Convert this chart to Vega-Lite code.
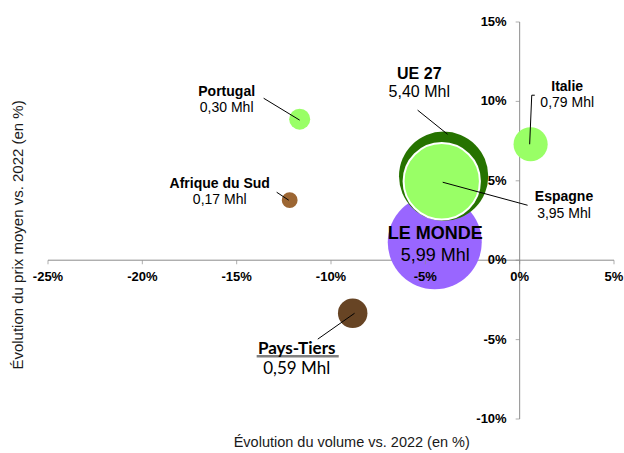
{
  "$schema": "https://vega.github.io/schema/vega-lite/v6.json",
  "width": 566,
  "height": 397,
  "autosize": {"type": "none"},
  "padding": {"left": 48, "top": 22, "right": 10, "bottom": 34},
  "background": "white",
  "config": {"view": {"stroke": null}, "font": "Liberation Sans"},
  "datasets": {
    "bulles": [
      {"nom": "LE MONDE", "volume": -4.5, "prix": 1.13, "mhl": 5.99},
      {"nom": "UE 27", "volume": -4.03, "prix": 5.29, "mhl": 5.40},
      {"nom": "Espagne", "volume": -4.13, "prix": 4.97, "mhl": 3.95},
      {"nom": "Italie", "volume": 0.58, "prix": 7.30, "mhl": 0.79},
      {"nom": "Portugal", "volume": -11.66, "prix": 8.88, "mhl": 0.30},
      {"nom": "Afrique du Sud", "volume": -12.19, "prix": 3.78, "mhl": 0.17},
      {"nom": "Pays-Tiers", "volume": -8.85, "prix": -3.34, "mhl": 0.59}
    ],
    "zero": [{"v": 0}],
    "graduations_x": [
      {"v": -25, "texte": "-25%"}, {"v": -20, "texte": "-20%"}, {"v": -15, "texte": "-15%"},
      {"v": -10, "texte": "-10%"}, {"v": -5, "texte": "-5%"}, {"v": 0, "texte": "0%"}, {"v": 5, "texte": "5%"}
    ],
    "graduations_y": [
      {"v": -10, "texte": "-10%"}, {"v": -5, "texte": "-5%"}, {"v": 0, "texte": "0%"},
      {"v": 5, "texte": "5%"}, {"v": 10, "texte": "10%"}, {"v": 15, "texte": "15%"}
    ],
    "titres": [
      {"texte": "Évolution du volume vs. 2022 (en %)", "tx": -8.9, "ty": -11.5, "axe": "x"},
      {"texte": "Évolution du prix moyen vs. 2022 (en %)", "tx": -26.59, "ty": 1.59, "axe": "y"}
    ],
    "etiquettes": [
      {"nom": "Portugal", "valeur": "0,30 Mhl", "lx": -15.53, "ly_nom": 10.58, "ly_valeur": 9.57},
      {"nom": "Afrique du Sud", "valeur": "0,17 Mhl", "lx": -15.9, "ly_nom": 4.79, "ly_valeur": 3.78},
      {"nom": "UE 27", "valeur": "5,40 Mhl", "lx": -5.32, "ly_nom": 11.71, "ly_valeur": 10.58},
      {"nom": "Italie", "valeur": "0,79 Mhl", "lx": 2.52, "ly_nom": 10.89, "ly_valeur": 9.89},
      {"nom": "Espagne", "valeur": "3,95 Mhl", "lx": 2.35, "ly_nom": 3.97, "ly_valeur": 2.9},
      {"nom": "LE MONDE", "valeur": "5,99 Mhl", "lx": -4.48, "ly_nom": 1.64, "ly_valeur": 0.25},
      {"nom": "Pays-Tiers", "valeur": "0,59 Mhl", "lx": -11.82, "ly_nom": -5.6, "ly_valeur": -6.86}
    ],
    "reperes": [
      {"nom": "Portugal", "x1": -13.57, "y1": 10.2, "x2": -11.66, "y2": 8.82},
      {"nom": "Afrique du Sud", "x1": -12.88, "y1": 4.28, "x2": -12.24, "y2": 3.78},
      {"nom": "UE 27", "x1": -5.41, "y1": 9.45, "x2": -3.82, "y2": 7.93},
      {"nom": "Italie", "x1": 0.64, "y1": 10.39, "x2": 0.53, "y2": 7.3},
      {"nom": "Italie", "x1": 0.64, "y1": 10.39, "x2": 0.8, "y2": 10.39},
      {"nom": "Espagne", "x1": -4.08, "y1": 4.91, "x2": 0.42, "y2": 3.46},
      {"nom": "Pays-Tiers", "x1": -10.7, "y1": -4.97, "x2": -8.75, "y2": -3.34}
    ],
    "soulignement": [
      {"nom": "Pays-Tiers", "x1": -13.94, "x2": -9.59, "y": -6.05}
    ]
  },
  "layer": [
    {
      "data": {"name": "zero"},
      "mark": {"type": "rule", "color": "#8c8c8c", "strokeWidth": 1},
      "encoding": {
        "y": {"field": "v", "type": "quantitative", "scale": {"domain": [-10, 15], "nice": false, "zero": false}, "axis": null}
      }
    },
    {
      "data": {"name": "zero"},
      "mark": {"type": "rule", "color": "#8c8c8c", "strokeWidth": 1},
      "encoding": {
        "x": {"field": "v", "type": "quantitative", "scale": {"domain": [-25, 5], "nice": false, "zero": false}, "axis": null}
      }
    },
    {
      "data": {"name": "bulles"},
      "transform": [{"filter": "datum.nom !== 'Espagne'"}],
      "mark": {"type": "circle", "opacity": 1},
      "encoding": {
        "x": {"field": "volume", "type": "quantitative", "scale": {"domain": [-25, 5], "nice": false, "zero": false}, "axis": null},
        "y": {"field": "prix", "type": "quantitative", "scale": {"domain": [-10, 15], "nice": false, "zero": false}, "axis": null},
        "size": {"field": "mhl", "type": "quantitative", "scale": {"domain": [0, 6], "range": [0, 8850]}, "legend": null},
        "color": {
          "field": "nom", "type": "nominal",
          "scale": {
            "domain": ["LE MONDE", "UE 27", "Espagne", "Italie", "Portugal", "Afrique du Sud", "Pays-Tiers"],
            "range": ["#9966FF", "#267300", "#99FF66", "#99FF66", "#99FF66", "#9C6633", "#674424"]
          },
          "legend": null
        }
      }
    },
    {
      "data": {"name": "bulles"},
      "transform": [{"filter": "datum.nom === 'Espagne'"}],
      "mark": {"type": "circle", "opacity": 1, "fill": "#99FF66", "stroke": "white", "strokeWidth": 2},
      "encoding": {
        "x": {"field": "volume", "type": "quantitative", "scale": {"domain": [-25, 5], "nice": false, "zero": false}, "axis": null},
        "y": {"field": "prix", "type": "quantitative", "scale": {"domain": [-10, 15], "nice": false, "zero": false}, "axis": null},
        "size": {"field": "mhl", "type": "quantitative", "scale": {"domain": [0, 6], "range": [0, 8850]}, "legend": null}
      }
    },
    {
      "data": {"name": "graduations_x"},
      "mark": {"type": "tick", "orient": "vertical", "color": "#8c8c8c", "size": 4, "thickness": 1, "yOffset": 2},
      "encoding": {
        "x": {"field": "v", "type": "quantitative", "scale": {"domain": [-25, 5], "nice": false, "zero": false}, "axis": null},
        "y": {"datum": 0, "type": "quantitative", "scale": {"domain": [-10, 15], "nice": false, "zero": false}, "axis": null}
      }
    },
    {
      "data": {"name": "graduations_y"},
      "mark": {"type": "tick", "orient": "horizontal", "color": "#8c8c8c", "size": 4, "thickness": 1, "xOffset": -2},
      "encoding": {
        "y": {"field": "v", "type": "quantitative", "scale": {"domain": [-10, 15], "nice": false, "zero": false}, "axis": null},
        "x": {"datum": 0, "type": "quantitative", "scale": {"domain": [-25, 5], "nice": false, "zero": false}, "axis": null}
      }
    },
    {
      "data": {"name": "graduations_x"},
      "mark": {"type": "text", "font": "Liberation Sans", "fontWeight": "bold", "fontSize": 13, "align": "center", "baseline": "middle", "dy": 17, "color": "black"},
      "encoding": {
        "x": {"field": "v", "type": "quantitative", "scale": {"domain": [-25, 5], "nice": false, "zero": false}, "axis": null},
        "y": {"datum": 0, "type": "quantitative", "scale": {"domain": [-10, 15], "nice": false, "zero": false}, "axis": null},
        "text": {"field": "texte"}
      }
    },
    {
      "data": {"name": "graduations_y"},
      "mark": {"type": "text", "font": "Liberation Sans", "fontWeight": "bold", "fontSize": 13, "align": "right", "baseline": "middle", "dx": -13, "color": "black"},
      "encoding": {
        "y": {"field": "v", "type": "quantitative", "scale": {"domain": [-10, 15], "nice": false, "zero": false}, "axis": null},
        "x": {"datum": 0, "type": "quantitative", "scale": {"domain": [-25, 5], "nice": false, "zero": false}, "axis": null},
        "text": {"field": "texte"}
      }
    },
    {
      "data": {"name": "titres"},
      "transform": [{"filter": "datum.axe === 'x'"}],
      "mark": {"type": "text", "font": "Liberation Sans", "fontSize": 14.5, "align": "center", "baseline": "middle", "color": "#1a1a1a"},
      "encoding": {
        "x": {"field": "tx", "type": "quantitative", "scale": {"domain": [-25, 5], "nice": false, "zero": false}, "axis": null},
        "y": {"field": "ty", "type": "quantitative", "scale": {"domain": [-10, 15], "nice": false, "zero": false}, "axis": null},
        "text": {"field": "texte"}
      }
    },
    {
      "data": {"name": "titres"},
      "transform": [{"filter": "datum.axe === 'y'"}],
      "mark": {"type": "text", "font": "Liberation Sans", "fontSize": 15, "angle": 270, "align": "center", "baseline": "middle", "color": "#1a1a1a"},
      "encoding": {
        "x": {"field": "tx", "type": "quantitative", "scale": {"domain": [-25, 5], "nice": false, "zero": false}, "axis": null},
        "y": {"field": "ty", "type": "quantitative", "scale": {"domain": [-10, 15], "nice": false, "zero": false}, "axis": null},
        "text": {"field": "texte"}
      }
    },
    {
      "data": {"name": "reperes"},
      "mark": {"type": "rule", "color": "black", "strokeWidth": 1},
      "encoding": {
        "x": {"field": "x1", "type": "quantitative", "scale": {"domain": [-25, 5], "nice": false, "zero": false}, "axis": null},
        "y": {"field": "y1", "type": "quantitative", "scale": {"domain": [-10, 15], "nice": false, "zero": false}, "axis": null},
        "x2": {"field": "x2"},
        "y2": {"field": "y2"}
      }
    },
    {
      "data": {"name": "soulignement"},
      "mark": {"type": "rule", "color": "#7f7f7f", "strokeWidth": 2.5},
      "encoding": {
        "x": {"field": "x1", "type": "quantitative", "scale": {"domain": [-25, 5], "nice": false, "zero": false}, "axis": null},
        "x2": {"field": "x2"},
        "y": {"field": "y", "type": "quantitative", "scale": {"domain": [-10, 15], "nice": false, "zero": false}, "axis": null}
      }
    },
    {
      "data": {"name": "etiquettes"},
      "transform": [{"filter": "datum.nom === 'Portugal' || datum.nom === 'Afrique du Sud' || datum.nom === 'Italie' || datum.nom === 'Espagne'"}],
      "mark": {"type": "text", "font": "Liberation Sans", "fontWeight": "bold", "fontSize": 14, "align": "center", "baseline": "middle", "color": "black"},
      "encoding": {
        "x": {"field": "lx", "type": "quantitative", "scale": {"domain": [-25, 5], "nice": false, "zero": false}, "axis": null},
        "y": {"field": "ly_nom", "type": "quantitative", "scale": {"domain": [-10, 15], "nice": false, "zero": false}, "axis": null},
        "text": {"field": "nom"}
      }
    },
    {
      "data": {"name": "etiquettes"},
      "transform": [{"filter": "datum.nom === 'Portugal' || datum.nom === 'Afrique du Sud' || datum.nom === 'Italie' || datum.nom === 'Espagne'"}],
      "mark": {"type": "text", "font": "Liberation Sans", "fontWeight": "normal", "fontSize": 14, "align": "center", "baseline": "middle", "color": "black"},
      "encoding": {
        "x": {"field": "lx", "type": "quantitative", "scale": {"domain": [-25, 5], "nice": false, "zero": false}, "axis": null},
        "y": {"field": "ly_valeur", "type": "quantitative", "scale": {"domain": [-10, 15], "nice": false, "zero": false}, "axis": null},
        "text": {"field": "valeur"}
      }
    },
    {
      "data": {"name": "etiquettes"},
      "transform": [{"filter": "datum.nom === 'UE 27'"}],
      "mark": {"type": "text", "font": "Liberation Sans", "fontWeight": "bold", "fontSize": 16, "align": "center", "baseline": "middle", "color": "black"},
      "encoding": {
        "x": {"field": "lx", "type": "quantitative", "scale": {"domain": [-25, 5], "nice": false, "zero": false}, "axis": null},
        "y": {"field": "ly_nom", "type": "quantitative", "scale": {"domain": [-10, 15], "nice": false, "zero": false}, "axis": null},
        "text": {"field": "nom"}
      }
    },
    {
      "data": {"name": "etiquettes"},
      "transform": [{"filter": "datum.nom === 'UE 27'"}],
      "mark": {"type": "text", "font": "Liberation Sans", "fontWeight": "normal", "fontSize": 16, "align": "center", "baseline": "middle", "color": "black"},
      "encoding": {
        "x": {"field": "lx", "type": "quantitative", "scale": {"domain": [-25, 5], "nice": false, "zero": false}, "axis": null},
        "y": {"field": "ly_valeur", "type": "quantitative", "scale": {"domain": [-10, 15], "nice": false, "zero": false}, "axis": null},
        "text": {"field": "valeur"}
      }
    },
    {
      "data": {"name": "etiquettes"},
      "transform": [{"filter": "datum.nom === 'LE MONDE'"}],
      "mark": {"type": "text", "font": "Liberation Sans", "fontWeight": "bold", "fontSize": 18, "align": "center", "baseline": "middle", "color": "black"},
      "encoding": {
        "x": {"field": "lx", "type": "quantitative", "scale": {"domain": [-25, 5], "nice": false, "zero": false}, "axis": null},
        "y": {"field": "ly_nom", "type": "quantitative", "scale": {"domain": [-10, 15], "nice": false, "zero": false}, "axis": null},
        "text": {"field": "nom"}
      }
    },
    {
      "data": {"name": "etiquettes"},
      "transform": [{"filter": "datum.nom === 'LE MONDE'"}],
      "mark": {"type": "text", "font": "Liberation Sans", "fontWeight": "normal", "fontSize": 18, "align": "center", "baseline": "middle", "color": "black"},
      "encoding": {
        "x": {"field": "lx", "type": "quantitative", "scale": {"domain": [-25, 5], "nice": false, "zero": false}, "axis": null},
        "y": {"field": "ly_valeur", "type": "quantitative", "scale": {"domain": [-10, 15], "nice": false, "zero": false}, "axis": null},
        "text": {"field": "valeur"}
      }
    },
    {
      "data": {"name": "etiquettes"},
      "transform": [{"filter": "datum.nom === 'Pays-Tiers'"}],
      "mark": {"type": "text", "font": "Lato", "fontWeight": "bold", "align": "center", "baseline": "middle", "color": "black", "fontSize": 17},
      "encoding": {
        "x": {"field": "lx", "type": "quantitative", "scale": {"domain": [-25, 5], "nice": false, "zero": false}, "axis": null},
        "y": {"field": "ly_nom", "type": "quantitative", "scale": {"domain": [-10, 15], "nice": false, "zero": false}, "axis": null},
        "text": {"field": "nom"}
      }
    },
    {
      "data": {"name": "etiquettes"},
      "transform": [{"filter": "datum.nom === 'Pays-Tiers'"}],
      "mark": {"type": "text", "font": "Lato", "fontWeight": "normal", "align": "center", "baseline": "middle", "color": "black", "fontSize": 17},
      "encoding": {
        "x": {"field": "lx", "type": "quantitative", "scale": {"domain": [-25, 5], "nice": false, "zero": false}, "axis": null},
        "y": {"field": "ly_valeur", "type": "quantitative", "scale": {"domain": [-10, 15], "nice": false, "zero": false}, "axis": null},
        "text": {"field": "valeur"}
      }
    }
  ]
}
